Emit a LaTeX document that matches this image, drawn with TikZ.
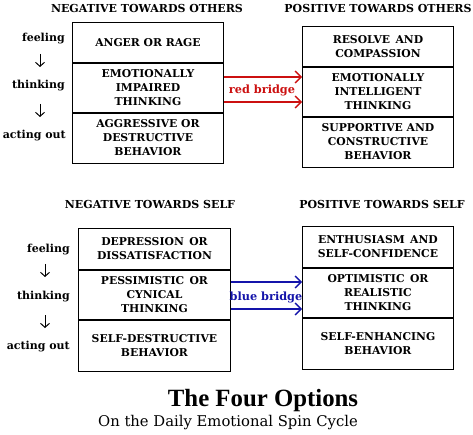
\documentclass[tikz,border=0pt]{standalone}
\usepackage{fontspec}
\setmainfont{DejaVu Serif}
\newfontfamily\titlefont{Liberation Serif}
\usetikzlibrary{arrows.meta}
\definecolor{bridgered}{RGB}{204,16,16}
\definecolor{bridgeblue}{RGB}{20,20,170}
\begin{document}
\begin{tikzpicture}[x=1pt,y=-1pt,
  sec/.style={draw,line width=0.9pt,minimum width=#1,anchor=north west,inner sep=0pt,
    align=center,font=\bfseries\fontsize{10.8}{14}\selectfont},
  divider/.style={line width=2.4pt},
  head/.style={font=\bfseries\fontsize{11}{13}\selectfont},
  side/.style={anchor=east,inner sep=0pt,font=\bfseries\fontsize{11}{13}\selectfont},
  down/.style={line width=1pt,-{Straight Barb[length=4pt,width=9pt]}},
  bridge/.style={line width=1.8pt,-{Straight Barb[length=6pt,width=12pt,line width=1.4pt]}}
]
\useasboundingbox (0,0) rectangle (473,435);
\fill[white] (0,0) rectangle (473,435);

% headers
\node[head] (hno) at (147,9) {NEGATIVE TOWARDS OTHERS};
\node[head] (hpo) at (378,9) {POSITIVE TOWARDS OTHERS};
\node[head] (hns) at (150,204) {NEGATIVE TOWARDS SELF};
\node[head] (hps) at (382,204) {POSITIVE TOWARDS SELF};

% top left box
\node[sec=151pt,minimum height=40pt] (tl1) at (72,22) {ANGER OR RAGE};
\node[sec=151pt,minimum height=50pt] (tl2) at (72,62) {EMOTIONALLY\\IMPAIRED\\THINKING};
\node[sec=151pt,minimum height=51pt] (tl3) at (72,112) {AGGRESSIVE OR\\DESTRUCTIVE\\BEHAVIOR};
\draw[divider] (tl1.south west) -- (tl1.south east);
\draw[divider] (tl2.south west) -- (tl2.south east);

% top right box
\node[sec=151pt,minimum height=40pt] (tr1) at (302,26) {RESOLVE\enspace AND\\COMPASSION};
\node[sec=151pt,minimum height=50pt] (tr2) at (302,66) {EMOTIONALLY\\INTELLIGENT\\THINKING};
\node[sec=151pt,minimum height=51pt] (tr3) at (302,116) {SUPPORTIVE AND\\CONSTRUCTIVE\\BEHAVIOR};
\draw[divider] (tr1.south west) -- (tr1.south east);
\draw[divider] (tr2.south west) -- (tr2.south east);

% bottom left box
\node[sec=152pt,minimum height=41pt] (bl1) at (78,228) {DEPRESSION\enspace OR\\DISSATISFACTION};
\node[sec=152pt,minimum height=50pt] (bl2) at (78,269) {PESSIMISTIC\enspace OR\\CYNICAL\\THINKING};
\node[sec=152pt,minimum height=52pt] (bl3) at (78,319) {SELF-DESTRUCTIVE\\BEHAVIOR};
\draw[divider] (bl1.south west) -- (bl1.south east);
\draw[divider] (bl2.south west) -- (bl2.south east);

% bottom right box
\node[sec=151pt,minimum height=41pt] (br1) at (302,226) {ENTHUSIASM\enspace AND\\SELF-CONFIDENCE};
\node[sec=151pt,minimum height=50pt] (br2) at (302,267) {OPTIMISTIC\enspace OR\\REALISTIC\\THINKING};
\node[sec=151pt,minimum height=52pt] (br3) at (302,317) {SELF-ENHANCING\\BEHAVIOR};
\draw[divider] (br1.south west) -- (br1.south east);
\draw[divider] (br2.south west) -- (br2.south east);

% side labels top
\node[side] (f1) at (65,39) {feeling};
\node[side] (t1) at (65,86) {thinking};
\node[side] (a1) at (66,136) {acting out};
\draw[down] (40,54) -- (40,67);
\draw[down] (40,104) -- (40,117);

% side labels bottom
\node[side] (f2) at (70,250) {feeling};
\node[side] (t2) at (70,297) {thinking};
\node[side] (a2) at (70,347) {acting out};
\draw[down] (45,264) -- (45,277);
\draw[down] (45,315) -- (45,328);

% red bridge
\draw[bridge,bridgered] (tl2.east |- 0,77) -- (tr2.west |- 0,77);
\draw[bridge,bridgered] (tl2.east |- 0,102) -- (tr2.west |- 0,102);
\node[font=\bfseries\fontsize{11.3}{13}\selectfont,text=bridgered] (rb) at (262,90) {red bridge};

% blue bridge
\draw[bridge,bridgeblue] (bl2.east |- 0,282) -- (br2.west |- 0,282);
\draw[bridge,bridgeblue] (bl2.east |- 0,309) -- (br2.west |- 0,309);
\node[font=\bfseries\fontsize{11.3}{13}\selectfont,text=bridgeblue] (bb) at (266,297) {blue bridge};

% title
\node[font=\titlefont\bfseries\fontsize{24.8}{28}\selectfont] (title) at (263,401) {The Four Options};
\node[font=\fontsize{14.8}{17}\selectfont] (sub) at (228,423) {On the Daily Emotional Spin Cycle};
\end{tikzpicture}
\end{document}
